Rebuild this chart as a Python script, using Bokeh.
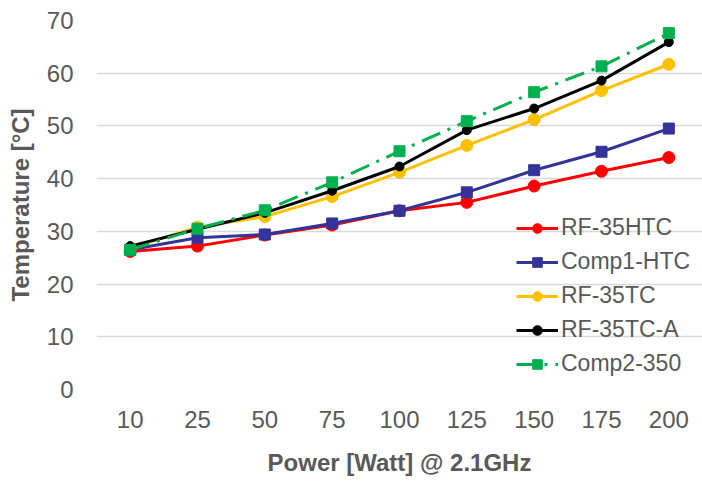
from bokeh.plotting import figure
from bokeh.models import Legend, LegendItem, FactorRange, Range1d, FixedTicker
from bokeh.embed import file_html
from bokeh.resources import INLINE

power = ["10", "25", "50", "75", "100", "125", "150", "175", "200"]
rf35htc = [26.2, 27.2, 29.3, 31.2, 33.9, 35.5, 38.6, 41.4, 44.0]
comp1_htc = [26.5, 28.8, 29.4, 31.5, 33.9, 37.4, 41.6, 45.1, 49.5]
rf35tc = [26.8, 30.8, 32.8, 36.6, 41.2, 46.3, 51.2, 56.7, 61.7]
rf35tc_a = [27.2, 30.4, 33.5, 37.7, 42.3, 49.2, 53.3, 58.6, 65.9]
comp2_350 = [26.5, 30.5, 34.0, 39.3, 45.2, 50.9, 56.4, 61.3, 67.6]

FONT = "Liberation Sans"
GREY = "#595959"

p = figure(width=702, height=481, x_range=FactorRange(*power), y_range=Range1d(0, 70),
           output_backend="svg", toolbar_location=None,
           min_border_left=96, min_border_right=0, min_border_top=20, min_border_bottom=92)
p.outline_line_color = None
p.xgrid.grid_line_color = None
p.ygrid.grid_line_color = "#d9d9d9"
p.ygrid.grid_line_width = 1.5
p.yaxis.ticker = FixedTicker(ticks=[0, 10, 20, 30, 40, 50, 60, 70])

for ax in (p.xaxis[0], p.yaxis[0]):
    ax.axis_line_color = None
    ax.major_tick_line_color = None
    ax.minor_tick_line_color = None
    ax.major_tick_out = 0
    ax.major_tick_in = 0
    ax.major_label_text_font = FONT
    ax.major_label_text_font_size = "24px"
    ax.major_label_text_color = GREY
    ax.axis_label_text_font = FONT
    ax.axis_label_text_font_size = "24px"
    ax.axis_label_text_font_style = "bold"
    ax.axis_label_text_color = GREY

p.xaxis.axis_label = "Power [Watt] @ 2.1GHz"
p.yaxis.axis_label = "Temperature [°C]"
p.xaxis.major_label_standoff = 21
p.xaxis.axis_label_standoff = 18
p.yaxis.major_label_standoff = 23
p.yaxis.axis_label_standoff = 10

items = []
l = p.line(power, rf35htc, line_color="#FF0000", line_width=3)
m = p.scatter(power, rf35htc, marker="circle", size=12, color="#FF0000")
items.append(LegendItem(label="RF-35HTC", renderers=[l, m]))

l = p.line(power, comp1_htc, line_color="#333399", line_width=3)
m = p.scatter(power, comp1_htc, marker="square", size=11, color="#333399")
items.append(LegendItem(label="Comp1-HTC", renderers=[l, m]))

l = p.line(power, rf35tc, line_color="#FFC000", line_width=3)
m = p.scatter(power, rf35tc, marker="circle", size=12, color="#FFC000")
items.append(LegendItem(label="RF-35TC", renderers=[l, m]))

l = p.line(power, rf35tc_a, line_color="#000000", line_width=3)
m = p.scatter(power, rf35tc_a, marker="circle", size=9, color="#000000")
items.append(LegendItem(label="RF-35TC-A", renderers=[l, m]))

l = p.line(power, comp2_350, line_color="#00B050", line_width=3, line_dash="20 8 3 8")
m = p.scatter(power, comp2_350, marker="square", size=11, color="#00B050")
items.append(LegendItem(label="Comp2-350", renderers=[l, m]))

legend = Legend(items=items, location=(420, 12), orientation="vertical",
                background_fill_alpha=0, border_line_color=None,
                label_text_font=FONT, label_text_font_size="23px", label_text_color=GREY,
                glyph_width=42, glyph_height=24, label_height=24, spacing=7,
                padding=0, margin=0, label_standoff=3)
p.add_layout(legend, "center")

open("out.html", "w").write(file_html(p, INLINE))
